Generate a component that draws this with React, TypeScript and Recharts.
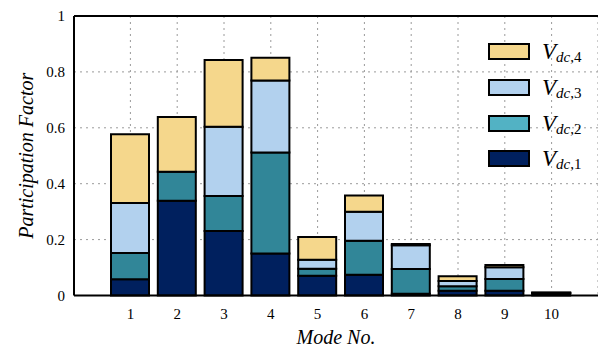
import React from 'react';
import {
  BarChart,
  Bar,
  XAxis,
  YAxis,
  CartesianGrid,
  ReferenceLine,
} from 'recharts';

const modes = ['1', '2', '3', '4', '5', '6', '7', '8', '9', '10'];
const vdc1 = [0.058, 0.339, 0.231, 0.15, 0.071, 0.074, 0.006, 0.017, 0.017, 0.007];
const vdc2 = [0.094, 0.104, 0.125, 0.362, 0.025, 0.122, 0.089, 0.016, 0.042, 0.002];
const vdc3 = [0.179, 0, 0.248, 0.257, 0.032, 0.104, 0.085, 0.019, 0.042, 0.001];
const vdc4 = [0.246, 0.196, 0.239, 0.082, 0.081, 0.058, 0.004, 0.017, 0.008, 0.001];
const yTicks = [0, 0.2, 0.4, 0.6, 0.8, 1];

const FONT = '"Liberation Serif", "Times New Roman", serif';

const series = [
  { key: 'v1', sub: '1', fill: '#00205e', legendFill: '#00205e' },
  { key: 'v2', sub: '2', fill: '#318698', legendFill: '#52b2c4' },
  { key: 'v3', sub: '3', fill: '#b2d1ee', legendFill: '#b2d1ee' },
  { key: 'v4', sub: '4', fill: '#f5d78c', legendFill: '#f5d78c' },
];

const data = modes.map((mode, i) => ({
  mode,
  v1: vdc1[i],
  v2: vdc2[i],
  v3: vdc3[i],
  v4: vdc4[i],
}));

const LegendBox = () => (
  <div style={{ position: 'absolute', left: 488, top: 34, fontFamily: FONT, color: '#000' }}>
    {[...series].reverse().map((s) => (
      <div
        key={s.key}
        style={{ display: 'flex', alignItems: 'center', height: 35.7 }}
      >
        <div
          style={{
            width: 38,
            height: 13,
            background: s.legendFill,
            border: '2px solid #000',
            marginRight: 12,
          }}
        />
        <span style={{ fontSize: 23, fontStyle: 'italic', lineHeight: 1 }}>V</span>
        <span style={{ fontSize: 15, lineHeight: 1, position: 'relative', top: 6 }}>
          <i>dc</i>,{s.sub}
        </span>
      </div>
    ))}
  </div>
);

const axisStroke = { stroke: '#000', strokeWidth: 2 };
const innerTick = { stroke: '#000', strokeWidth: 1.5 };

export default function App() {
  return (
    <div style={{ position: 'absolute', left: 0, top: 0, width: 598, height: 349, background: '#fff', fontFamily: FONT }}>
      <BarChart
        width={598}
        height={349}
        data={data}
        margin={{ top: 16, right: 0, bottom: 0, left: 0 }}
        barSize={38}
        style={{ fontFamily: FONT }}
      >
        <CartesianGrid stroke="#9a9a9a" strokeDasharray="2 4" strokeWidth={1} />
        <XAxis
          dataKey="mode"
          height={53.5}
          padding={{ left: 33, right: 23 }}
          axisLine={axisStroke}
          tickLine={false}
          tickSize={0}
          tickMargin={13}
          tick={{ fill: '#000', fontSize: 15, fontFamily: FONT }}
          label={{
            content: (p: any) => (
              <text
                x={p.viewBox.x + p.viewBox.width / 2}
                y={344}
                textAnchor="middle"
                fontFamily={FONT}
                fontSize={20}
                fontStyle="italic"
                fill="#000"
              >
                Mode No.
              </text>
            ),
          }}
        />
        <XAxis xAxisId="bt" dataKey="mode" mirror height={0} padding={{ left: 33, right: 23 }} axisLine={false} tickSize={5} tickLine={innerTick} tick={false} />
        <XAxis xAxisId="tp" dataKey="mode" orientation="top" mirror height={0} padding={{ left: 33, right: 23 }} axisLine={false} tickSize={5} tickLine={innerTick} tick={false} />
        <YAxis
          width={74}
          domain={[0, 1]}
          ticks={yTicks}
          tickFormatter={(v: number) => String(v)}
          axisLine={axisStroke}
          tickLine={false}
          tickSize={0}
          tickMargin={9}
          tick={{ fill: '#000', fontSize: 15, fontFamily: FONT }}
          label={{
            content: (p: any) => (
              <text
                x={26}
                y={p.viewBox.y + p.viewBox.height / 2}
                transform={`rotate(-90 26 ${p.viewBox.y + p.viewBox.height / 2})`}
                textAnchor="middle"
                dominantBaseline="central"
                fontFamily={FONT}
                fontSize={20}
                fontStyle="italic"
                fill="#000"
              >
                Participation Factor
              </text>
            ),
          }}
        />
        <YAxis yAxisId="in" domain={[0, 1]} ticks={yTicks} mirror width={0} axisLine={false} tickSize={5} tickLine={innerTick} tick={false} />
        <ReferenceLine y={1} stroke="#000" strokeWidth={2} />
        {series.map((s) => (
          <Bar
            key={s.key}
            dataKey={s.key}
            stackId="a"
            fill={s.fill}
            stroke="#000"
            strokeWidth={2}
            isAnimationActive={false}
          />
        ))}
      </BarChart>
      <LegendBox />
    </div>
  );
}
